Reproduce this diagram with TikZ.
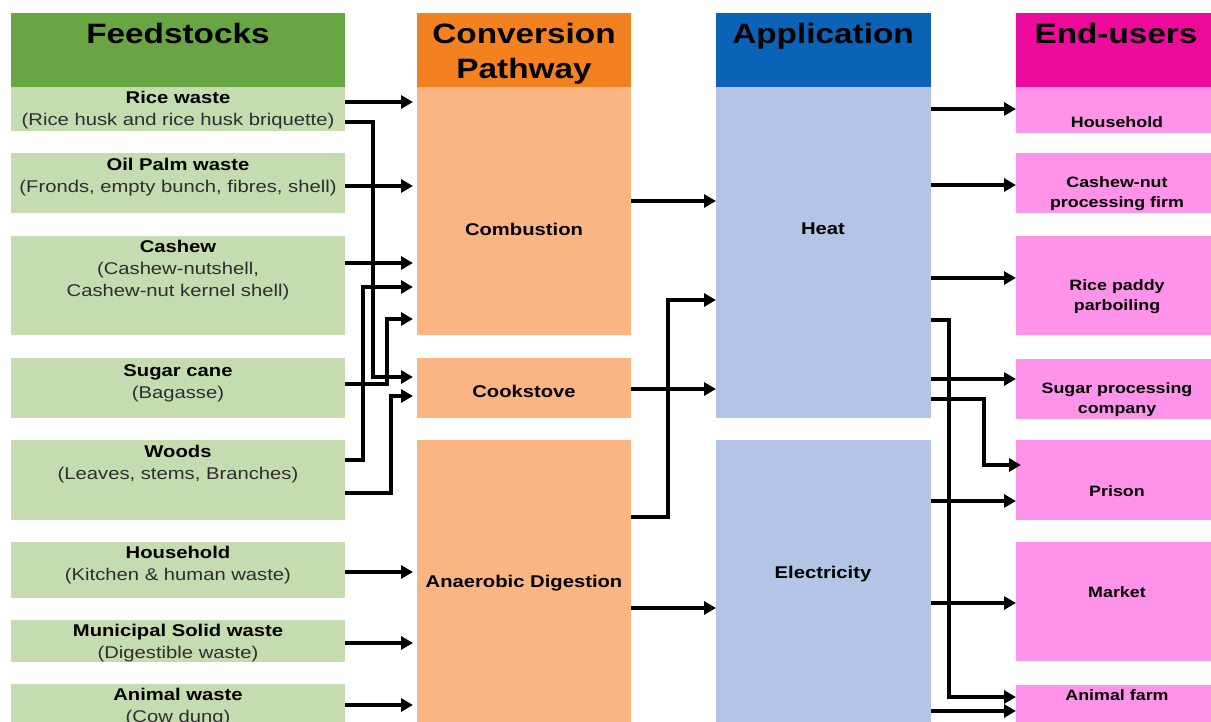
\documentclass[tikz,border=0pt]{standalone}
\usepackage{fontspec}
\setmainfont{Liberation Sans}[FakeStretch=1.19]
\usetikzlibrary{arrows.meta}
\definecolor{fhead}{HTML}{6AA544}
\definecolor{fbox}{HTML}{C5DCB1}
\definecolor{chead}{HTML}{F4811F}
\definecolor{cbox}{HTML}{FBB583}
\definecolor{ahead}{HTML}{0A63B6}
\definecolor{abox}{HTML}{B3C4E6}
\definecolor{ehead}{HTML}{EE0A9B}
\definecolor{ebox}{HTML}{FF93EA}
\begin{document}
\begin{tikzpicture}[x=1pt,y=-1pt,
  blk/.style={rectangle, inner sep=0, outer sep=0, anchor=north west, draw=none},
  hdr/.style={inner sep=0, anchor=base, font=\fontsize{28}{34}\selectfont\bfseries},
  ftxt/.style={inner sep=0, align=center, font=\fontsize{17}{22}\selectfont},
  ctxt/.style={inner sep=0, align=center, font=\fontsize{17}{22}\selectfont\bfseries},
  etxt/.style={inner sep=0, align=center, font=\fontsize{15}{20}\selectfont\bfseries},
  arr/.style={line width=3.4pt, -{Triangle[length=12pt,width=13pt]}},
  arrl/.style={arr, shorten >=4pt}]
\clip (0,0) rectangle (1211,722);
\fill[white] (0,0) rectangle (1211,722);

% ---------- Feedstocks column ----------
\node[blk, fill=fhead, minimum width=334, minimum height=74] (fHead)   at (11,13)  {};
\node[blk, fill=fbox,  minimum width=334, minimum height=44] (fRice)   at (11,87)  {};
\node[blk, fill=fbox,  minimum width=334, minimum height=60] (fOil)    at (11,153) {};
\node[blk, fill=fbox,  minimum width=334, minimum height=99] (fCash)   at (11,236) {};
\node[blk, fill=fbox,  minimum width=334, minimum height=60] (fSugar)  at (11,358) {};
\node[blk, fill=fbox,  minimum width=334, minimum height=80] (fWood)   at (11,440) {};
\node[blk, fill=fbox,  minimum width=334, minimum height=56] (fHouse)  at (11,542) {};
\node[blk, fill=fbox,  minimum width=334, minimum height=42] (fMSW)    at (11,620) {};
\node[blk, fill=fbox,  minimum width=334, minimum height=50] (fAnimal) at (11,684) {};

% ---------- Conversion column ----------
\node[blk, fill=chead, minimum width=214, minimum height=74]  (cHead) at (417,13)  {};
\node[blk, fill=cbox,  minimum width=214, minimum height=248] (cComb) at (417,87)  {};
\node[blk, fill=cbox,  minimum width=214, minimum height=60]  (cCook) at (417,358) {};
\node[blk, fill=cbox,  minimum width=214, minimum height=294] (cAD)   at (417,440) {};

% ---------- Application column ----------
\node[blk, fill=ahead, minimum width=215, minimum height=74]  (aHead) at (716,13)  {};
\node[blk, fill=abox,  minimum width=215, minimum height=331] (aHeat) at (716,87)  {};
\node[blk, fill=abox,  minimum width=215, minimum height=294] (aElec) at (716,440) {};

% ---------- End-users column ----------
\node[blk, fill=ehead, minimum width=200, minimum height=74]  (eHead)   at (1016,13)  {};
\node[blk, fill=ebox,  minimum width=200, minimum height=46]  (eHouse)  at (1016,87)  {};
\node[blk, fill=ebox,  minimum width=200, minimum height=60]  (eCash)   at (1016,153) {};
\node[blk, fill=ebox,  minimum width=200, minimum height=99]  (eRice)   at (1016,236) {};
\node[blk, fill=ebox,  minimum width=200, minimum height=60]  (eSugar)  at (1016,359) {};
\node[blk, fill=ebox,  minimum width=200, minimum height=80]  (ePrison) at (1016,440) {};
\node[blk, fill=ebox,  minimum width=200, minimum height=119] (eMarket) at (1016,542) {};
\node[blk, fill=ebox,  minimum width=200, minimum height=50]  (eAnimal) at (1016,685) {};

% ---------- Headings ----------
\node[hdr] (hF)  at (178,44)  {Feedstocks};
\node[hdr] (hC1) at (524,44)  {Conversion};
\node[hdr] (hC2) at (524,79)  {Pathway};
\node[hdr] (hA)  at (823,44)  {Application};
\node[hdr] (hE)  at (1116,44) {End-users};

% ---------- Labels ----------
\node[ftxt] (tRice)   at (178,110) {\textbf{Rice waste}\\{\color{black!82}(Rice husk and rice husk briquette)}};
\node[ftxt] (tOil)    at (178,177) {\textbf{Oil Palm waste}\\{\color{black!82}(Fronds, empty bunch, fibres, shell)}};
\node[ftxt] (tCash)   at (178,270) {\textbf{Cashew}\\{\color{black!82}(Cashew-nutshell,}\\{\color{black!82}Cashew-nut kernel shell)}};
\node[ftxt] (tSugar)  at (178,383) {\textbf{Sugar cane}\\{\color{black!82}(Bagasse)}};
\node[ftxt] (tWood)   at (178,464) {\textbf{Woods}\\{\color{black!82}(Leaves, stems, Branches)}};
\node[ftxt] (tHouse)  at (178,565) {\textbf{Household}\\{\color{black!82}(Kitchen \& human waste)}};
\node[ftxt] (tMSW)    at (178,643) {\textbf{Municipal Solid waste}\\{\color{black!82}(Digestible waste)}};
\node[ftxt] (tAnimal) at (178,707) {\textbf{Animal waste}\\{\color{black!82}(Cow dung)}};

\node[ctxt] (tComb) at (524,229) {Combustion};
\node[ctxt] (tCook) at (524,391) {Cookstove};
\node[ctxt] (tAD)   at (524,583) {Anaerobic Digestion};
\node[ctxt] (tHeat) at (823,229) {Heat};
\node[ctxt] (tElec) at (823,574) {Electricity};

\node[etxt] (uHouse)  at (1117,122) {Household};
\node[etxt] (uCash)   at (1117,194) {Cashew-nut\\processing firm};
\node[etxt] (uRice)   at (1117,297) {Rice paddy\\parboiling};
\node[etxt] (uSugar)  at (1117,400) {Sugar processing\\company};
\node[etxt] (uPrison) at (1117,491) {Prison};
\node[etxt] (uMarket) at (1117,592) {Market};
\node[etxt] (uAnimal) at (1117,695) {Animal farm};

% ---------- Feedstocks -> conversion ----------
\draw[arrl] (fRice.east |- 0,102) -- (cComb.west |- 0,102);
\draw[arrl] (fRice.east |- 0,122) -- (373,122) |- (cCook.west |- 0,377);
\draw[arrl] (fOil.east |- 0,186) -- (cComb.west |- 0,186);
\draw[arrl] (fCash.east |- 0,263) -- (cComb.west |- 0,263);
\draw[arrl] (fWood.east |- 0,460) -- (363,460) |- (cComb.west |- 0,287);
\draw[arrl] (fSugar.east |- 0,384) -- (387,384) |- (cComb.west |- 0,319);
\draw[arrl] (fWood.east |- 0,493) -- (391,493) |- (cCook.west |- 0,396);
\draw[arrl] (fHouse.east |- 0,572) -- (cAD.west |- 0,572);
\draw[arrl] (fMSW.east |- 0,643) -- (cAD.west |- 0,643);
\draw[arrl] (fAnimal.east |- 0,705) -- (cAD.west |- 0,705);

% ---------- Conversion -> application ----------
\draw[arr] (cComb.east |- 0,201) -- (aHeat.west |- 0,201);
\draw[arr] (cCook.east |- 0,389) -- (aHeat.west |- 0,389);
\draw[arr] (cAD.east |- 0,517) -- (668,517) |- (aHeat.west |- 0,300);
\draw[arr] (cAD.east |- 0,608) -- (aElec.west |- 0,608);

% ---------- Application -> end-users ----------
\draw[arr] (aHeat.east |- 0,109) -- (eHouse.west |- 0,109);
\draw[arr] (aHeat.east |- 0,185) -- (eCash.west |- 0,185);
\draw[arr] (aHeat.east |- 0,278) -- (eRice.west |- 0,278);
\draw[arr] (aHeat.east |- 0,320) -- (949,320) |- (eAnimal.west |- 0,697);
\draw[arr] (aHeat.east |- 0,379) -- (eSugar.west |- 0,379);
\draw[arr] (aHeat.east |- 0,399) -- (984,399) |- ([xshift=5pt]ePrison.west |- 0,465);
\draw[arr] (aElec.east |- 0,501) -- (ePrison.west |- 0,501);
\draw[arr] (aElec.east |- 0,603) -- (eMarket.west |- 0,603);
\draw[arr] (aElec.east |- 0,711) -- (eAnimal.west |- 0,711);
\end{tikzpicture}
\end{document}
